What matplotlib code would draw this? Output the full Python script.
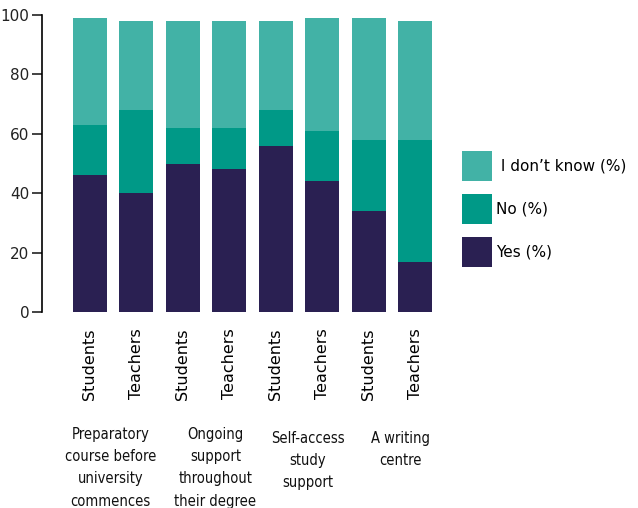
import numpy as np
import matplotlib
matplotlib.use('Agg')
import matplotlib.pyplot as plt
import matplotlib.patches as mpatches
from matplotlib.legend_handler import HandlerPatch
from matplotlib.transforms import blended_transform_factory

# data
respondents = ['Students', 'Teachers', 'Students', 'Teachers',
               'Students', 'Teachers', 'Students', 'Teachers']
groups = ['Preparatory\ncourse before\nuniversity\ncommences',
          'Ongoing\nsupport\nthroughout\ntheir degree',
          'Self-access\nstudy\nsupport',
          'A writing\ncentre']
yes_pct = [46, 40, 50, 48, 56, 44, 34, 17]
no_pct = [17, 28, 12, 14, 12, 17, 24, 41]
dontknow_pct = [36, 30, 36, 36, 30, 38, 41, 40]
series_labels = ['Yes (%)', 'No (%)', ' I don\u2019t know (%)']

c_yes = '#2a2052'
c_no = '#009987'
c_dk = '#42b2a6'

W, H = 638, 508
fig = plt.figure(figsize=(W / 100, H / 100), dpi=100)
fig.patch.set_facecolor('white')

# axes placed in pixel terms: left spine at x=42, y=0 at 312, y=100 at 15
left, right = 42 / W, 440 / W
bottom, top = 1 - 312 / H, 1 - 15 / H
ax = fig.add_axes([left, bottom, right - left, top - bottom])

x = np.arange(len(respondents))
yes = np.array(yes_pct)
no = np.array(no_pct)
dk = np.array(dontknow_pct)
bw = 0.73
ax.bar(x, yes, width=bw, color=c_yes, label=series_labels[0])
ax.bar(x, no, width=bw, bottom=yes, color=c_no, label=series_labels[1])
ax.bar(x, dk, width=bw, bottom=yes + no, color=c_dk, label=series_labels[2])

ax.set_xlim(-1.03, 7.53)
ax.set_ylim(0, 100)
ax.set_yticks(np.arange(0, 101, 20))
for s in ['top', 'right', 'bottom']:
    ax.spines[s].set_visible(False)
ax.spines['left'].set_linewidth(1.2)
ax.tick_params(axis='y', length=7, width=1.2, labelsize=11, pad=2, colors='#222222')
ax.tick_params(axis='x', length=0, pad=12)
ax.set_xticks(x)
ax.set_xticklabels(respondents, rotation=90, fontsize=11.5, va='top')

# group labels under each pair
trans = blended_transform_factory(ax.transData, fig.transFigure)
group_x = [0.45, 2.7, 4.68, 6.68]
group_y = [427, 427, 431, 431]
for gx, gy, lab in zip(group_x, group_y, groups):
    ax.text(gx, 1 - gy / H, lab, transform=trans, ha='center', va='top',
            fontsize=10.5, family='DejaVu Sans', stretch='condensed',
            linespacing=1.6, color='#111111')


# rounded legend squares like the reference
def rounded_patch(legend, orig_handle, xdescent, ydescent, width, height, fontsize):
    return mpatches.FancyBboxPatch((-xdescent, -ydescent), width, height,
                                   boxstyle='round,pad=0,rounding_size=2.5')


handles, labels = ax.get_legend_handles_labels()
leg = fig.legend(handles[::-1], labels[::-1], loc='center left',
                 bbox_to_anchor=(448 / W, 1 - 209 / H), frameon=False,
                 fontsize=11, handlelength=1.95, handleheight=2.64,
                 labelspacing=0.85, handletextpad=0.3,
                 handler_map={mpatches.Rectangle: HandlerPatch(patch_func=rounded_patch)})

fig.savefig('out.png', dpi=100)
